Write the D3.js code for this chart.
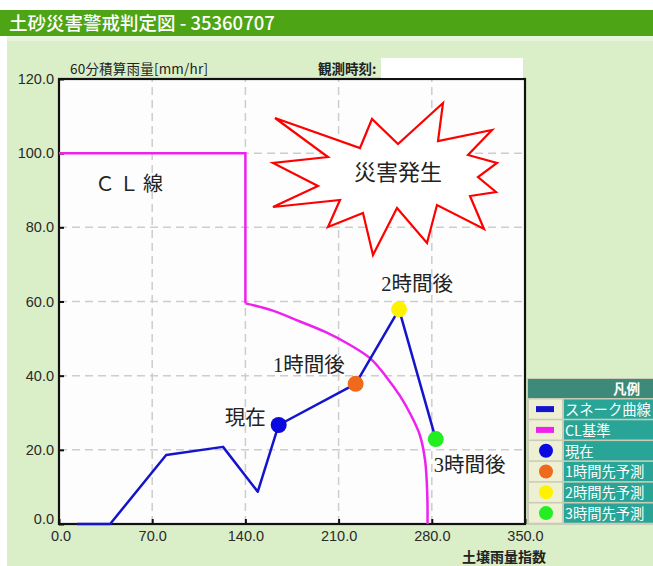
<!DOCTYPE html>
<html><head><meta charset="utf-8">
<script src="https://cdn.jsdelivr.net/npm/d3@7"></script>
<style>body{margin:0;background:#fff;} svg{display:block;}</style>
</head><body>
<svg id="c" width="653" height="566"></svg>
<script>
// ---- data ----
const titleText = "土砂災害警戒判定図 - 35360707";
const xTicks = [0, 70, 140, 210, 280, 350];
const yTicks = [0, 20, 40, 60, 80, 100, 120];
const snakeX = [13.5, 38.4, 80.5, 123.2, 149.3, 165.0, 222.8, 255.4, 283.0];
const snakeY = [0, 0, 18.6, 20.8, 8.7, 26.7, 37.8, 57.9, 22.9];
const clStepX = [0, 140, 140];
const clStepY = [100, 100, 59.5];
const clCurveX = [140, 160, 181, 200, 218, 234, 246, 256, 264, 271, 275, 276.6, 276.8];
const clCurveY = [59.5, 57.6, 54.6, 51.8, 48.4, 44.6, 39.6, 34.6, 29.6, 24.0, 17.0, 8, 0];
const pointNames = ["現在", "1時間後", "2時間後", "3時間後"];
const pointX = [165.0, 222.8, 255.4, 283.0];
const pointY = [26.7, 37.8, 57.9, 22.9];
const pointColors = ["#0a0ae0", "#f06a1c", "#fff200", "#22ee22"];
const legendItems = ["スネーク曲線", "CL基準", "現在", "1時間先予測", "2時間先予測", "3時間先予測"];

const svg = d3.select("#c");
const W = 653, H = 566;
const sans = "'Liberation Sans', Arial, 'Noto Sans CJK JP', sans-serif";
const cjk = "'Noto Sans CJK JP', 'Liberation Sans', sans-serif";
const serif = "'Liberation Serif', 'DejaVu Serif', 'Noto Sans CJK JP', serif";

// background panels
svg.append("rect").attr("x", 0).attr("y", 0).attr("width", W).attr("height", H).attr("fill", "#ffffff");
svg.append("rect").attr("x", 7).attr("y", 36).attr("width", W - 7).attr("height", H - 36).attr("fill", "#daefc8");
svg.append("rect").attr("x", 7).attr("y", 36).attr("width", W - 7).attr("height", 5).attr("fill", "#e7f5dc");
svg.append("rect").attr("x", 0).attr("y", 10).attr("width", W).attr("height", 26).attr("fill", "#4da414");
svg.append("text").attr("x", 9).attr("y", 30).attr("fill", "#fff")
  .attr("font-family", cjk).attr("font-size", 18.5).attr("font-weight", 500).text(titleText);

// scales
const x = d3.scaleLinear().domain([0, 350]).range([59, 525]);
const y = d3.scaleLinear().domain([0, 120]).range([524, 79]);

// plot area
svg.append("rect").attr("x", x(0)).attr("y", y(120)).attr("width", x(350) - x(0)).attr("height", y(0) - y(120))
  .attr("fill", "#fdfdfd");

// grid
const grid = svg.append("g").attr("stroke", "#cdcdcd").attr("stroke-width", 1.5).attr("stroke-dasharray", "8,5");
grid.selectAll(".gx").data(xTicks.filter(d => d > 0 && d < 350)).join("line")
  .attr("x1", d => x(d)).attr("x2", d => x(d)).attr("y1", y(0)).attr("y2", y(120));
grid.selectAll(".gy").data(yTicks.filter(d => d > 0 && d < 120)).join("line")
  .attr("x1", x(0)).attr("x2", x(350)).attr("y1", d => y(d)).attr("y2", d => y(d));

// axes
const fmt = d3.format(".1f");
const ax = svg.append("g").attr("transform", `translate(0,${y(0)})`)
  .call(d3.axisBottom(x).tickValues(xTicks).tickSize(-5).tickPadding(7).tickFormat(fmt));
const ay = svg.append("g").attr("transform", `translate(${x(0)},0)`)
  .call(d3.axisLeft(y).tickValues(yTicks).tickSize(-5).tickPadding(5).tickFormat(fmt));
[ax, ay].forEach(g => {
  g.select(".domain").remove();
  g.selectAll(".tick line").attr("stroke", "#111").attr("stroke-width", 2);
  g.selectAll(".tick text").attr("fill", "#2a2a2a").attr("font-family", sans).attr("font-size", 14.5);
});
ay.selectAll(".tick").filter(d => d === 0).select("text").attr("dy", "-0.05em");
ax.selectAll(".tick").filter(d => d === 0).select("text").attr("dx", "0.1em");

// border
svg.append("rect").attr("x", x(0)).attr("y", y(120)).attr("width", x(350) - x(0)).attr("height", y(0) - y(120))
  .attr("fill", "none").attr("stroke", "#111").attr("stroke-width", 2.2);

// axis titles
svg.append("text").attr("x", 70).attr("y", 74).attr("font-family", cjk).attr("font-size", 13.5)
  .attr("fill", "#222").attr("textLength", 138).text("60分積算雨量[mm/hr]");
svg.append("text").attr("x", 318).attr("y", 74).attr("font-family", cjk).attr("font-size", 13.5)
  .attr("font-weight", "bold").attr("fill", "#222").text("観測時刻:");
svg.append("rect").attr("x", 381).attr("y", 58).attr("width", 142).attr("height", 20).attr("fill", "#fff");
svg.append("text").attr("x", 462).attr("y", 562).attr("font-family", cjk).attr("font-size", 14)
  .attr("font-weight", "bold").attr("fill", "#222").text("土壌雨量指数");

// CL line
const line = d3.line().x(d => x(d[0])).y(d => y(d[1]));
const smooth = d3.line().x(d => x(d[0])).y(d => y(d[1])).curve(d3.curveCatmullRom.alpha(0.5));
svg.append("path").datum(clStepX.map((v, i) => [v, clStepY[i]])).attr("d", line)
  .attr("fill", "none").attr("stroke", "#ee22ee").attr("stroke-width", 2.5);
svg.append("path").datum(clCurveX.map((v, i) => [v, clCurveY[i]])).attr("d", smooth)
  .attr("fill", "none").attr("stroke", "#ee22ee").attr("stroke-width", 2.5);
svg.append("text").attr("x", 95).attr("y", 191).attr("font-family", serif).attr("font-size", 20)
  .attr("fill", "#222").attr("letter-spacing", 4).text("ＣＬ線");

// starburst
const burst = [[275,118],[360,148],[372,119],[398,144],[443,103],[438,141],[492,130],[468,155],[497,163],
  [478,177],[496,192],[470,196],[484,229],[437,205],[427,243],[397,208],[373,255],[363,213],[328,227],
  [340,200],[273,207],[318,186],[273,163],[328,157]];
svg.append("polygon").attr("points", burst.map(p => p.join(",")).join(" "))
  .attr("fill", "#fff").attr("stroke", "#f00").attr("stroke-width", 2.2).attr("stroke-linejoin", "miter");
svg.append("text").attr("x", 398).attr("y", 180).attr("text-anchor", "middle").attr("font-family", serif)
  .attr("font-size", 22).attr("fill", "#222").text("災害発生");

// snake line
svg.append("path").datum(snakeX.map((v, i) => [v, snakeY[i]])).attr("d", line)
  .attr("fill", "none").attr("stroke", "#1414cc").attr("stroke-width", 2.5).attr("stroke-linejoin", "round");

// points
svg.selectAll(".pt").data(pointX).join("circle")
  .attr("cx", d => x(d)).attr("cy", (d, i) => y(pointY[i])).attr("r", 8)
  .attr("fill", (d, i) => pointColors[i]);

// labels
const lblOff = [{dx: -13, dy: 0, a: "end"}, {dx: -11, dy: -12, a: "end"}, {dx: 18, dy: -18, a: "middle"}, {dx: -2, dy: 33, a: "start"}];
svg.selectAll(".pl").data(pointNames).join("text")
  .attr("x", (d, i) => x(pointX[i]) + lblOff[i].dx).attr("y", (d, i) => y(pointY[i]) + lblOff[i].dy)
  .attr("text-anchor", (d, i) => lblOff[i].a)
  .attr("font-family", serif).attr("font-size", 20.5).attr("fill", "#222").text(d => d);

// legend
const lg = svg.append("g");
lg.append("rect").attr("x", 527).attr("y", 378).attr("width", 130).attr("height", 147).attr("fill", "#c9cdb8");
lg.append("rect").attr("x", 528).attr("y", 379).attr("width", 130).attr("height", 19).attr("fill", "#3d8a79");
lg.append("text").attr("x", 640).attr("y", 394).attr("text-anchor", "end").attr("font-family", cjk)
  .attr("font-size", 13.5).attr("font-weight", "bold").attr("fill", "#fff").text("凡例");
const rowH = 20.8;
legendItems.forEach((t, i) => {
  const ry = 399.5 + i * rowH;
  lg.append("rect").attr("x", 529).attr("y", ry).attr("width", 33).attr("height", rowH - 1.6).attr("fill", "#eef0d3");
  lg.append("rect").attr("x", 564).attr("y", ry).attr("width", 95).attr("height", rowH - 1.6).attr("fill", "#28a596");
  lg.append("text").attr("x", 565).attr("y", ry + 15.5).attr("font-family", cjk).attr("font-size", 14.3)
    .attr("fill", "#fff").text(t);
  const cy = ry + (rowH - 1.6) / 2;
  if (i === 0 || i === 1) {
    lg.append("rect").attr("x", 536).attr("y", cy - 3).attr("width", 18).attr("height", 6)
      .attr("fill", i === 0 ? "#1414cc" : "#ee22ee");
  } else {
    lg.append("circle").attr("cx", 546).attr("cy", cy).attr("r", 7).attr("fill", pointColors[i - 2]);
  }
});
</script>
</body></html>
